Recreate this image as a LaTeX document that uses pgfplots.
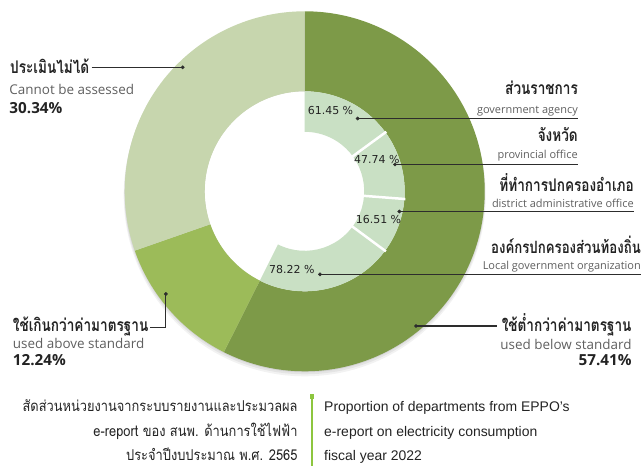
\documentclass[border=0pt]{standalone}
\usepackage{pgfplots}
\pgfplotsset{compat=1.18}
\usepackage{pgfplotstable}
\usepackage{fontspec}
\setmainfont{Open Sans}
\newfontfamily\thai[Script=Thai, FakeStretch=0.78]{Loma}
\newfontfamily\thaicap[Script=Thai, FakeStretch=0.86]{Loma}
\newfontfamily\helv{Liberation Sans}
\newfontfamily\dejavu{DejaVu Sans}
\newcommand\fs[1]{\fontsize{#1}{#1}\selectfont}
\definecolor{gdark}{RGB}{125,154,72}
\definecolor{gmed}{RGB}{156,187,89}
\definecolor{gpale}{RGB}{199,214,174}
\definecolor{glight}{RGB}{201,224,196}
\definecolor{txt}{RGB}{35,35,35}
\definecolor{sub}{RGB}{95,95,95}
\definecolor{gbar}{RGB}{141,198,63}
\definecolor{lead}{RGB}{45,45,45}

% outer ring shares (percent)
\pgfplotstableread{
value
57.41
12.24
30.34
}\outerdata
\pgfplotstablegetelem{0}{value}\of\outerdata \let\vA\pgfplotsretval
\pgfplotstablegetelem{1}{value}\of\outerdata \let\vB\pgfplotsretval
\pgfplotstablegetelem{2}{value}\of\outerdata \let\vC\pgfplotsretval

\begin{document}
\begin{tikzpicture}
\useasboundingbox (0,0) rectangle (644bp,466bp);
\pgfmathsetmacro\aA{90-3.6*\vA}
\pgfmathsetmacro\aB{\aA-3.6*\vB}
\pgfmathsetmacro\aC{\aB-3.6*\vC}
\begin{axis}[at={(0,0)}, anchor=south west, scale only axis,
  width=644bp, height=466bp, xmin=0, xmax=644, ymin=-466, ymax=0,
  axis lines=none, ticks=none, clip=false]
\coordinate (C) at (axis cs:304.7,-191.3);
% soft shadow
\fill[black, opacity=0.05] ([shift={(C)}]0bp,-4bp) circle[radius=181bp];
\fill[black, opacity=0.06] ([shift={(C)}]0bp,-2.5bp) circle[radius=180.5bp];
\fill[black, opacity=0.07] ([shift={(C)}]0bp,-1bp) circle[radius=180bp];
\fill[white] (C) circle[radius=100bp];
% outer ring
\fill[gdark] ([shift={(C)}]90:180bp) arc[start angle=90, end angle=\aA, radius=180bp]
  -- ([shift={(C)}]\aA:100bp) arc[start angle=\aA, end angle=90, radius=100bp] -- cycle;
\fill[gmed] ([shift={(C)}]\aA:180bp) arc[start angle=\aA, end angle=\aB, radius=180bp]
  -- ([shift={(C)}]\aB:100bp) arc[start angle=\aB, end angle=\aA, radius=100bp] -- cycle;
\fill[gpale] ([shift={(C)}]\aB:180bp) arc[start angle=\aB, end angle=\aC, radius=180bp]
  -- ([shift={(C)}]\aC:100bp) arc[start angle=\aC, end angle=\aB, radius=100bp] -- cycle;
% inner ring
\fill[glight] ([shift={(C)}]90:100bp) arc[start angle=90, end angle=\aA, radius=100bp]
  -- ([shift={(C)}]\aA:59.5bp) arc[start angle=\aA, end angle=90, radius=59.5bp] -- cycle;
\draw[white, line width=2.5bp] ([shift={(C)}]36.1:58bp) -- ([shift={(C)}]36.1:101bp);
\draw[white, line width=2.5bp] ([shift={(C)}]-4.4:58bp) -- ([shift={(C)}]-4.4:101bp);
\draw[white, line width=2.5bp] ([shift={(C)}]-36.5:58bp) -- ([shift={(C)}]-36.5:101bp);
\end{axis}
\begin{axis}[at={(0,0)}, anchor=south west, scale only axis,
  width=644bp, height=466bp, xmin=0, xmax=644, ymin=-466, ymax=0,
  axis lines=none, ticks=none, clip=false]
% leader lines
\addplot[lead, line width=1.1bp, no markers] coordinates {(91.7,-67.3) (182.7,-67.3)};
\addplot[lead, line width=1.1bp, no markers] coordinates {(150,-327.5) (165.8,-327.5) (165.8,-294)};
\addplot[lead, line width=1.1bp, no markers] coordinates {(416,-326) (497,-326)};
\addplot[lead, line width=1.1bp, no markers] coordinates {(357.7,-118.5) (578,-118.5)};
\addplot[lead, line width=1.1bp, no markers] coordinates {(395,-164.5) (578,-164.5)};
\addplot[lead, line width=1.1bp, no markers] coordinates {(399.3,-211.5) (634,-211.5)};
\addplot[lead, line width=1.1bp, no markers] coordinates {(320,-274.3) (641,-274.3)};
\addplot[only marks, mark=*, mark size=1.7bp, lead] coordinates {
 (182.7,-67.3) (165.8,-294) (416,-326) (357.7,-118.5) (395,-164.5) (399.3,-211.5) (320,-274.3)};
% green bar
\addplot[gbar, line width=2bp, no markers] coordinates {(311.7,-397) (311.7,-466)};
\addplot[gbar, line width=4bp, no markers] coordinates {(311.7,-394.5) (311.7,-399)};
% outer labels
\tikzset{every node/.append style={inner sep=0pt}}
\node[anchor=base west, txt, font=\thai\bfseries\fs{17.5}] at (axis cs:10,-73.3) {ประเมินไม่ได้};
\node[anchor=base west, sub, font=\fs{13.5}] at (axis cs:9.3,-95) {Cannot be assessed};
\node[anchor=base west, txt, font=\bfseries\fs{15.3}] at (axis cs:9.3,-114) {30.34\%};
\node[anchor=base west, txt, font=\thai\bfseries\fs{17.5}] at (axis cs:12.7,-331.7) {ใช้เกินกว่าค่ามาตรฐาน};
\node[anchor=base west, sub, font=\fs{13.5}] at (axis cs:12.7,-348.3) {used above standard};
\node[anchor=base west, txt, font=\bfseries\fs{15.3}] at (axis cs:12.7,-366) {12.24\%};
\node[anchor=base east, txt, font=\thai\bfseries\fs{17.5}] at (axis cs:631.7,-331.7) {ใช้ต่ำกว่าค่ามาตรฐาน};
\node[anchor=base east, sub, font=\fs{13.5}] at (axis cs:631.7,-350) {used below standard};
\node[anchor=base east, txt, font=\bfseries\fs{15.3}] at (axis cs:631.7,-366) {57.41\%};
% right labels
\node[anchor=base east, txt, font=\thai\bfseries\fs{17.5}] at (axis cs:578,-95) {ส่วนราชการ};
\node[anchor=base east, sub, font=\fs{11}] at (axis cs:578,-114) {government agency};
\node[anchor=base east, txt, font=\thai\bfseries\fs{17.5}] at (axis cs:578,-141.7) {จังหวัด};
\node[anchor=base east, sub, font=\fs{11}] at (axis cs:578,-158.3) {provincial office};
\node[anchor=base east, txt, font=\thai\bfseries\fs{17.5}] at (axis cs:634,-191.7) {ที่ทำการปกครองอำเภอ};
\node[anchor=base east, sub, font=\fs{11}] at (axis cs:634,-207.3) {district administrative office};
\node[anchor=base east, txt, font=\thai\bfseries\fs{17}] at (axis cs:641,-253.6) {องค์กรปกครองส่วนท้องถิ่น};
\node[anchor=base east, sub, font=\fs{11}] at (axis cs:641,-269.5) {Local government organization};
% inner labels
\node[anchor=base west, txt, font=\dejavu\fs{11}] at (axis cs:307.7,-114.3) {61.45 \%};
\node[anchor=base west, txt, font=\dejavu\fs{11}] at (axis cs:354,-163.3) {47.74 \%};
\node[anchor=base west, txt, font=\dejavu\fs{11}] at (axis cs:355.7,-223.3) {16.51 \%};
\node[anchor=base west, txt, font=\dejavu\fs{11}] at (axis cs:269,-273.3) {78.22 \%};
% caption
\node[anchor=base east, txt, font=\thaicap\fs{15}] at (axis cs:297.7,-411.2) {สัดส่วนหน่วยงานจากระบบรายงานและประมวลผล};
\node[anchor=base east, txt, font=\thaicap\fs{15}] at (axis cs:297.7,-436) {e-report ของ สนพ. ด้านการใช้ไฟฟ้า};
\node[anchor=base east, txt, font=\thaicap\fs{15}] at (axis cs:297.7,-460.3) {ประจำปีงบประมาณ พ.ศ. 2565};
\node[anchor=base west, txt, font=\helv\fs{14}] at (axis cs:324,-411.2) {Proportion of departments from EPPO’s};
\node[anchor=base west, txt, font=\helv\fs{14}] at (axis cs:324,-436) {e-report on electricity consumption};
\node[anchor=base west, txt, font=\helv\fs{14}] at (axis cs:324,-460.3) {fiscal year 2022};
\end{axis}
\end{tikzpicture}
\end{document}
